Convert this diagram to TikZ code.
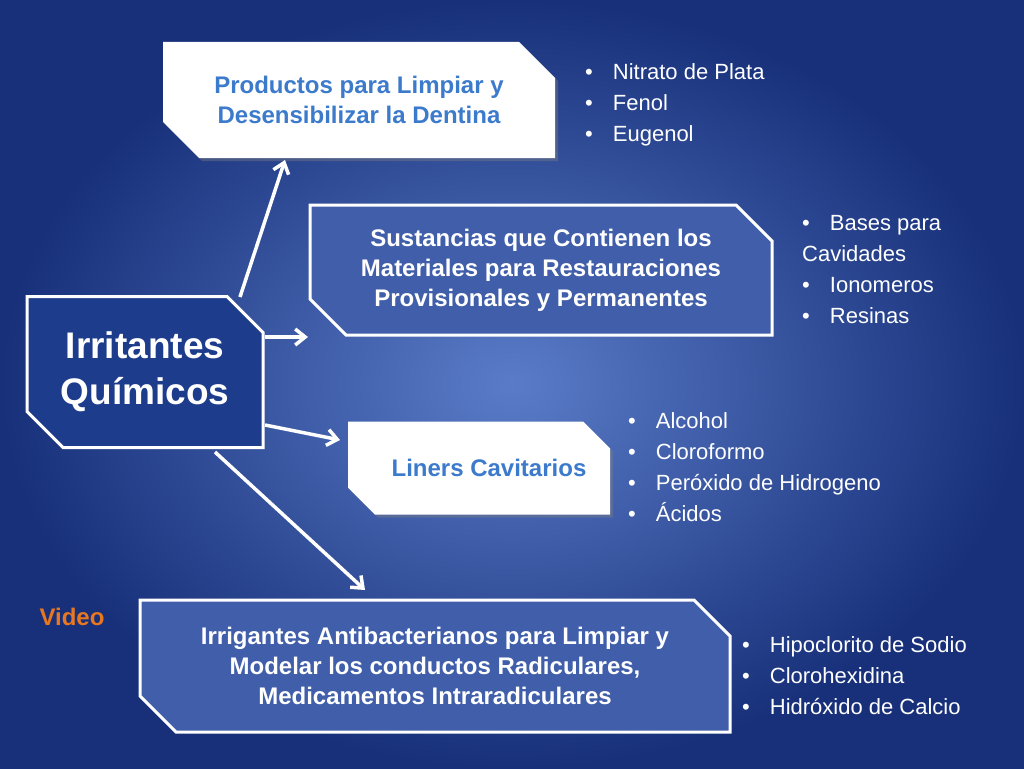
\documentclass[tikz,border=0pt]{standalone}
\usepackage{fontspec}
\setmainfont{Liberation Sans}
\usetikzlibrary{shapes.misc,arrows.meta,shadows}
\definecolor{bgin}{HTML}{5A7CC8}
\definecolor{bgout}{HTML}{18307A}
\definecolor{boxtxt}{HTML}{3C7ACC}
\definecolor{darkbox}{HTML}{1E3C8C}
\definecolor{vid}{HTML}{E87722}
\tikzset{
 snip/.style={chamfered rectangle, chamfered rectangle corners={north east,south west}, chamfered rectangle xsep=18pt, chamfered rectangle ysep=18pt, inner sep=0pt, align=center, font=\bfseries\fontsize{24}{30}\selectfont},
 wbox/.style={snip, fill=white, text=boxtxt, drop shadow={shadow xshift=3pt,shadow yshift=-3pt,opacity=0.4}},
 bbox/.style={snip, draw=white, line width=3pt, fill=bgin!60!bgout, text=white},
 arr/.style={draw=white, line width=3.5pt, -{Straight Barb[length=10pt,width=16pt]}},
 lst/.style={anchor=north west, text=white, align=left, font=\fontsize{22}{31}\selectfont, inner sep=0pt}
}
\begin{document}
\begin{tikzpicture}[x=1pt,y=-1pt]
\shade[inner color=bgin, outer color=bgout] (0,0) rectangle (1024,768);
\useasboundingbox (0,0) rectangle (1024,768);
\node[wbox, minimum width=392pt, minimum height=116pt] (p) at (359,100) {Productos para Limpiar y\\ Desensibilizar la Dentina};
\node[bbox, minimum width=462pt, minimum height=130pt] (s) at (541,270) {Sustancias que Contienen los\\ Materiales para Restauraciones\\ Provisionales y Permanentes};
\node[bbox, fill=darkbox, minimum width=236pt, minimum height=151pt, font=\bfseries\fontsize{37}{46}\selectfont] (i) at (145,372) {Irritantes\\ Químicos};
\node[wbox, minimum width=262pt, minimum height=93pt] (l) at (479,468) {\hspace*{20pt}Liners Cavitarios};
\node[bbox, minimum width=590pt, minimum height=132pt] (g) at (435,666) {Irrigantes Antibacterianos para Limpiar y\\ Modelar los conductos Radiculares,\\ Medicamentos Intraradiculares};
\draw[arr] (240,297) -- (285,160);
\draw[arr] (265,337) -- (308,337);
\draw[arr] (265,425) -- (340,440);
\draw[arr] (215,452) -- (365,590);
\node[lst] (t1) at (585,63) {•\hspace{20pt}Nitrato de Plata\\ •\hspace{20pt}Fenol\\ •\hspace{20pt}Eugenol};
\node[lst] (t2) at (802,215) {•\hspace{20pt}Bases para\\ Cavidades\\ •\hspace{20pt}Ionomeros\\ •\hspace{20pt}Resinas};
\node[lst] (t3) at (628,412) {•\hspace{20pt}Alcohol\\ •\hspace{20pt}Cloroformo\\ •\hspace{20pt}Peróxido de Hidrogeno\\ •\hspace{20pt}Ácidos};
\node[lst] (t4) at (742,636) {•\hspace{20pt}Hipoclorito de Sodio\\ •\hspace{20pt}Clorohexidina\\ •\hspace{20pt}Hidróxido de Calcio};
\node[text=vid, font=\bfseries\fontsize{24}{30}\selectfont] (v) at (72,617) {Video};
\end{tikzpicture}
\end{document}
